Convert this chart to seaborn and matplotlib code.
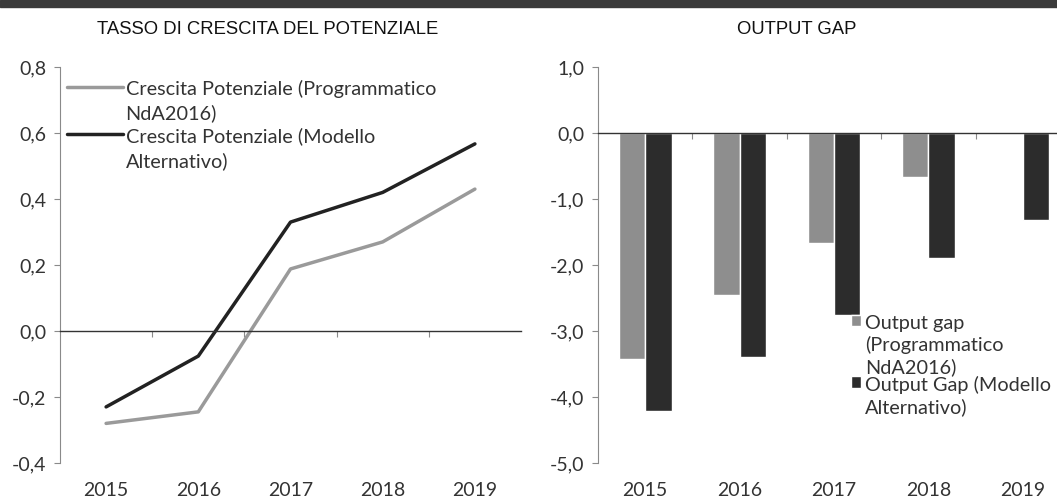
import matplotlib
matplotlib.use('Agg')
import matplotlib.pyplot as plt
from matplotlib.ticker import FuncFormatter, MultipleLocator, FixedLocator
from matplotlib.patches import Rectangle
import seaborn as sns
import pandas as pd

sns.set_style('white')
plt.rcParams['font.family'] = ['Lato', 'DejaVu Sans']

# dati
anni = [2015, 2016, 2017, 2018, 2019]
crescita_programmatico = [-0.28, -0.245, 0.188, 0.27, 0.43]
crescita_alternativo = [-0.23, -0.076, 0.33, 0.42, 0.567]
gap_programmatico = [-3.43, -2.45, -1.66, -0.66, 0.02]
gap_alternativo = [-4.21, -3.39, -2.76, -1.90, -1.32]

lab_cresc_prog = 'Crescita Potenziale (Programmatico\nNdA2016)'
lab_cresc_alt = 'Crescita Potenziale (Modello\nAlternativo)'
lab_gap_prog = 'Output gap\n(Programmatico\nNdA2016)'
lab_gap_alt = 'Output Gap (Modello\nAlternativo)'

df_cresc = pd.DataFrame({
    'anno': anni * 2,
    'valore': crescita_programmatico + crescita_alternativo,
    'serie': [lab_cresc_prog] * 5 + [lab_cresc_alt] * 5,
})
df_gap = pd.DataFrame({
    'anno': [str(a) for a in anni] * 2,
    'valore': gap_programmatico + gap_alternativo,
    'serie': [lab_gap_prog] * 5 + [lab_gap_alt] * 5,
})

grigio = '#9a9a9a'
nero = '#222222'
testo = '#333333'
virgola = FuncFormatter(lambda v, p: f'{v:.1f}'.replace('.', ','))


def allinea_in_alto(leg, interlinea):
    # simbolo della legenda all'altezza della prima riga del testo
    for col in leg._legend_handle_box.get_children():
        for riga in col.get_children():
            riga.align = 'top'
    for t in leg.get_texts():
        t.set_linespacing(interlinea)


fig = plt.figure(figsize=(10.57, 5.0), dpi=100)
fig.patches.append(Rectangle((0, 0.986), 1, 0.014, transform=fig.transFigure,
                             color='#3a3a3a', zorder=0))

# pannello sinistro
ax1 = fig.add_axes([60 / 1057, 0.074, 461 / 1057, 0.792])
sns.lineplot(data=df_cresc, x='anno', y='valore', hue='serie',
             palette=[grigio, nero], linewidth=2.5, ax=ax1)
ax1.set_xlim(2014.5, 2019.5)
ax1.set_ylim(-0.4, 0.8)
ax1.yaxis.set_major_locator(MultipleLocator(0.2))
ax1.yaxis.set_major_formatter(virgola)

# pannello destro
ax2 = fig.add_axes([598 / 1057, 0.074, 472 / 1057, 0.792])
sns.barplot(data=df_gap, x='anno', y='valore', hue='serie',
            palette=['#8e8e8e', '#2c2c2c'], width=0.56, saturation=1, ax=ax2)
ax2.set_xlim(-0.5, 4.5)
ax2.set_ylim(-5, 1)
ax2.yaxis.set_major_locator(MultipleLocator(1))
ax2.yaxis.set_major_formatter(virgola)

for ax, centri in [(ax1, anni), (ax2, list(range(5)))]:
    ax.set_xlabel('')
    ax.set_ylabel('')
    for s in ['top', 'right']:
        ax.spines[s].set_visible(False)
    ax.spines['left'].set_color('#8a8a8a')
    ax.spines['left'].set_linewidth(0.8)
    ax.spines['bottom'].set_position(('data', 0))
    ax.spines['bottom'].set_color('#333333')
    ax.spines['bottom'].set_linewidth(1.0)
    ax.tick_params(axis='y', which='major', left=True, length=4, width=0.8,
                   color='#8a8a8a', labelsize=14, labelcolor=testo, pad=6)
    bordi = [c + 0.5 for c in centri[:-1]]
    ax.xaxis.set_major_locator(FixedLocator(centri))
    ax.xaxis.set_minor_locator(FixedLocator(bordi))
    ax.tick_params(axis='x', which='major', bottom=False, labelbottom=False)
    ax.tick_params(axis='x', which='minor', bottom=True, length=4, width=0.8,
                   color='#8a8a8a')
    sec = ax.secondary_xaxis('bottom')
    sec.set_xticks(centri)
    sec.set_xticklabels([str(a) for a in anni])
    sec.spines['bottom'].set_visible(False)
    sec.tick_params(length=0, labelsize=14, labelcolor=testo, pad=14)

leg1 = ax1.legend(title=None, frameon=False, loc='upper left',
                  bbox_to_anchor=(0.015, 0.968), fontsize=14.3, handlelength=2.8,
                  handletextpad=0.15, labelspacing=0.25, borderaxespad=0,
                  borderpad=0, labelcolor=testo)
allinea_in_alto(leg1, 1.45)
leg2 = ax2.legend(title=None, frameon=False, loc='upper left',
                  bbox_to_anchor=(0.535, 0.375), fontsize=14.3, handlelength=0.55,
                  handleheight=0.55, handletextpad=0.2, labelspacing=0.0,
                  borderaxespad=0, borderpad=0, labelcolor=testo)
allinea_in_alto(leg2, 1.28)

titolo = ['Liberation Sans Narrow', 'Liberation Sans', 'DejaVu Sans']
fig.text(268 / 1057, 1 - 29 / 500, 'TASSO DI CRESCITA DEL POTENZIALE',
         ha='center', va='center', fontsize=13.3, color='#111111', family=titolo)
fig.text(797 / 1057, 1 - 29 / 500, 'OUTPUT GAP',
         ha='center', va='center', fontsize=13.3, color='#111111', family=titolo)

fig.savefig('out.png', dpi=100)
